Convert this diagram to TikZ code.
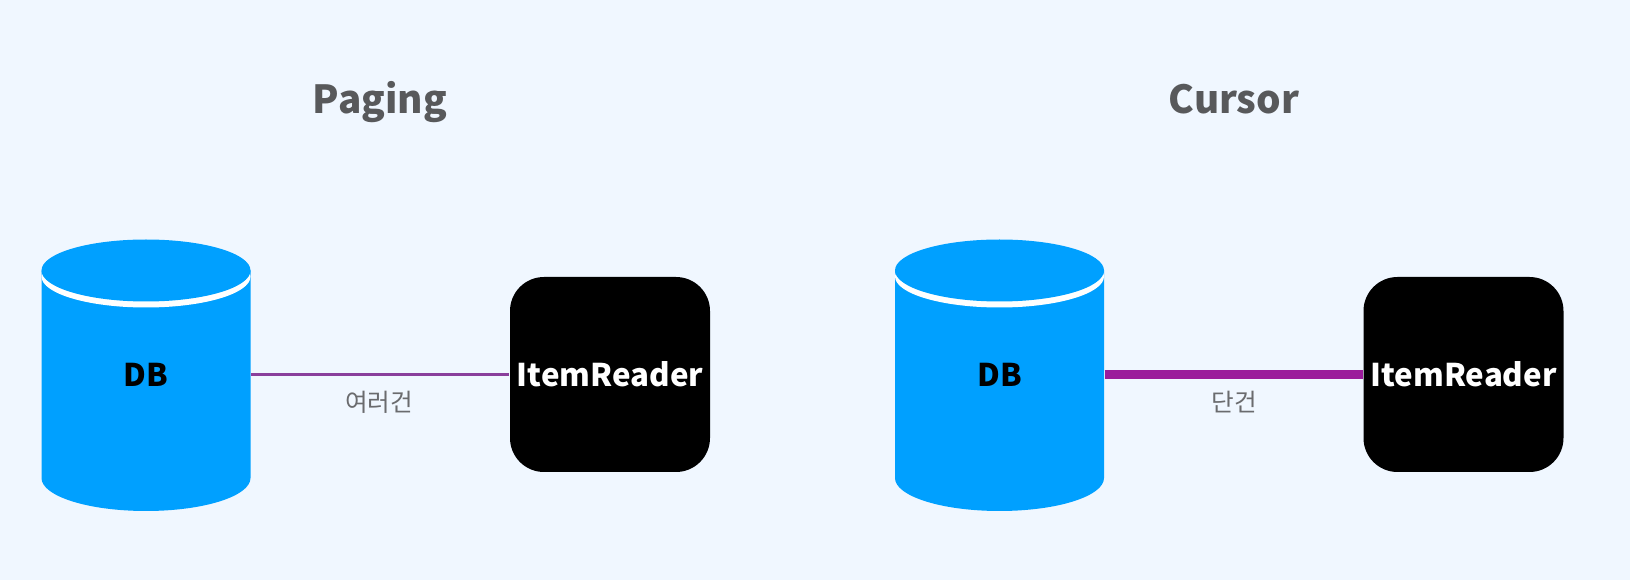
\documentclass[tikz,border=0pt]{standalone}
\usepackage{fontspec}
\setmainfont{Noto Sans CJK KR}
\definecolor{pageBg}{HTML}{F0F7FF}
\definecolor{dbBlue}{HTML}{00A0FF}
\definecolor{titleGray}{HTML}{58595B}
\definecolor{noteGray}{HTML}{6A6B6E}
\definecolor{thinLink}{HTML}{8A3F9C}
\definecolor{thickLink}{HTML}{9B1C9B}
\tikzset{
  titleText/.style={text=titleGray,anchor=base,font=\fontsize{11}{13}\selectfont\bfseries},
  noteText/.style={text=noteGray,font=\fontsize{7}{9}\selectfont},
  dbLabel/.style={text=black,font=\fontsize{8.9}{10}\selectfont\bfseries,minimum width=2.09cm,minimum height=2.73cm,inner sep=0pt},
  readerBox/.style={fill=black,text=white,rounded corners=0.34cm,minimum width=2cm,minimum height=1.95cm,inner sep=0pt,font=\fontsize{8.9}{12}\selectfont\bfseries}
}
\begin{document}
\begin{tikzpicture}
    % Parameters
    \def\rx{1.045}
    \def\ry{0.31}
    \def\topY{3.095}
    \def\sideY{1.02}
    \def\midY{2.055}

    % Background
    \fill[pageBg] (0,0) rectangle (16.3,5.8);

    % Cylinders
    \foreach \x/\name in {1.46/dbPaging,9.995/dbCursor}{
      \fill[dbBlue] (\x-\rx,\topY) -- (\x-\rx,\sideY) arc (180:360:\rx cm and 0.33cm) -- (\x+\rx,\topY) -- cycle;
      \fill[white] (\x,\topY-0.06) ellipse (\rx cm and \ry cm);
      \fill[dbBlue] (\x,\topY) ellipse (\rx cm and \ry cm);
      \node[dbLabel] (\name) at (\x,\midY) {DB};
    }

    % Readers
    \node[readerBox] (readerPaging) at (6.10,\midY) {ItemReader};
    \node[readerBox] (readerCursor) at (14.635,\midY) {ItemReader};

    % Links
    \draw[thinLink,line width=0.7pt] (dbPaging.east) -- (readerPaging.west);
    \draw[thickLink,line width=2.3pt] (dbCursor.east) -- (readerCursor.west);

    % Labels below links
    \node[noteText] (notePaging) at (3.79,1.78) {여러건};
    \node[noteText] (noteCursor) at (12.34,1.78) {단건};

    % Titles
    \node[titleText] (titlePaging) at (3.80,4.66) {Paging};
    \node[titleText] (titleCursor) at (12.34,4.66) {Cursor};
  \end{tikzpicture}
\end{document}
